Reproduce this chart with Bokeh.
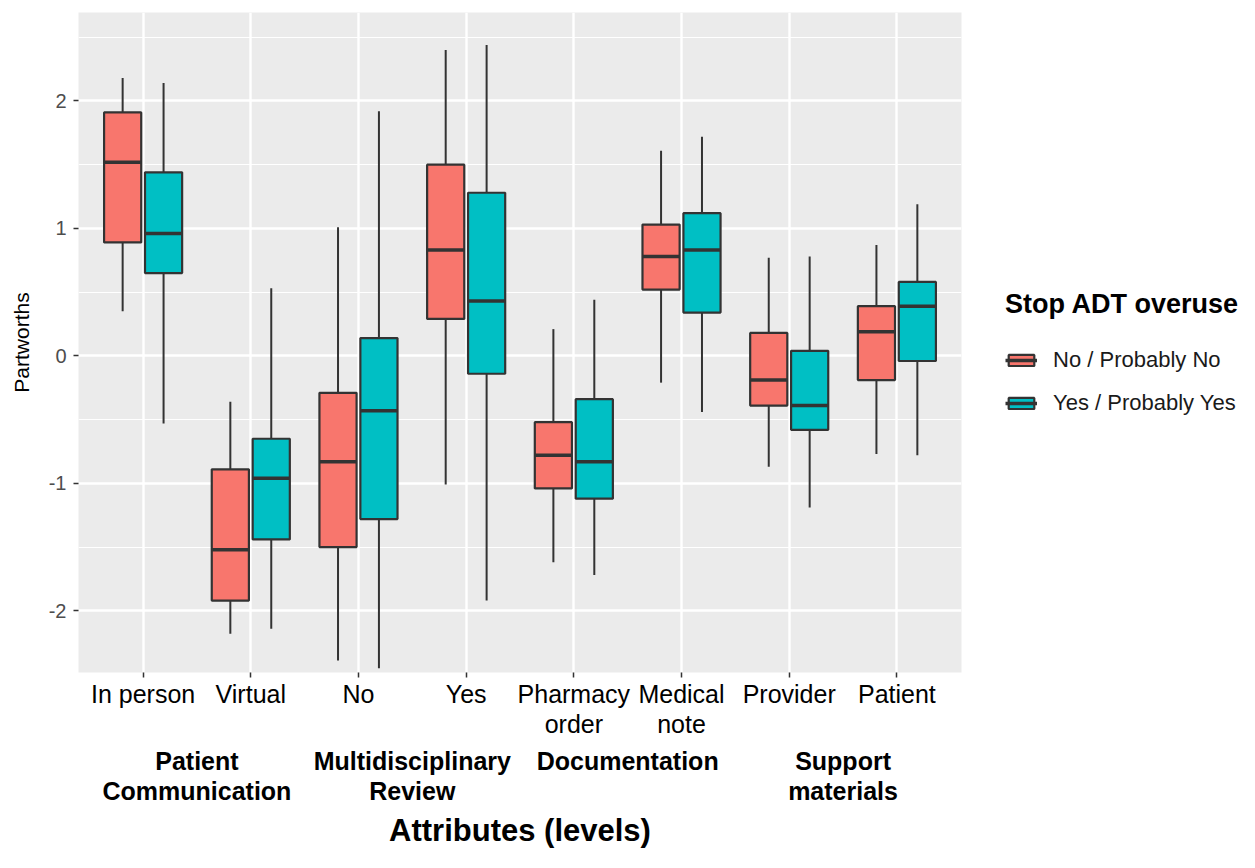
import numpy as np
from bokeh.plotting import figure
from bokeh.models import (ColumnDataSource, Range1d, FixedTicker, LinearAxis,
                          Legend, LegendItem)
from bokeh.embed import file_html
from bokeh.resources import INLINE

# ---------------- data ----------------
levels = ["In person", "Virtual", "No", "Yes", "Pharmacy\norder",
          "Medical\nnote", "Provider", "Patient"]
attributes = ["Patient\nCommunication", "Multidisciplinary\nReview",
              "Documentation", "Support\nmaterials"]
groups = ["No / Probably No", "Yes / Probably Yes"]

no_whisker_low = [0.35, -2.18, -2.39, -1.01, -1.62, -0.21, -0.87, -0.77]
no_q1 = [0.89, -1.92, -1.50, 0.29, -1.04, 0.52, -0.39, -0.19]
no_median = [1.52, -1.52, -0.83, 0.83, -0.78, 0.78, -0.19, 0.19]
no_q3 = [1.91, -0.89, -0.29, 1.50, -0.52, 1.03, 0.18, 0.39]
no_whisker_high = [2.18, -0.36, 1.01, 2.40, 0.21, 1.61, 0.77, 0.87]

yes_whisker_low = [-0.53, -2.14, -2.45, -1.92, -1.72, -0.44, -1.19, -0.78]
yes_q1 = [0.65, -1.44, -1.28, -0.14, -1.12, 0.34, -0.58, -0.04]
yes_median = [0.96, -0.96, -0.43, 0.43, -0.83, 0.83, -0.39, 0.39]
yes_q3 = [1.44, -0.65, 0.14, 1.28, -0.34, 1.12, 0.04, 0.58]
yes_whisker_high = [2.14, 0.53, 1.92, 2.44, 0.44, 1.72, 0.78, 1.19]

y_ticks = [-2, -1, 0, 1, 2]
y_tick_labels = ["-2", "-1", "0", "1", "2"]
y_minor = [-2.5, -1.5, -0.5, 0.5, 1.5, 2.5]

# ---------------- styling ----------------
FONT = "Liberation Sans"
RED = "#F8766D"
TEAL = "#00BFC4"
EDGE = "#333333"
DODGE = 0.19
BOX_W = 0.345

pos = np.arange(1, len(levels) + 1)
attr_pos = (pos[0::2] + pos[1::2]) / 2.0

p = figure(frame_width=883, frame_height=660,
           x_range=Range1d(0.4, 8.6), y_range=Range1d(-2.484, 2.694),
           output_backend="svg", toolbar_location=None,
           min_border_left=78, min_border_right=0,
           min_border_top=12, min_border_bottom=0)
p.background_fill_color = "#EBEBEB"
p.border_fill_color = "white"
p.outline_line_color = None

# grid
p.xgrid.ticker = FixedTicker(ticks=[int(v) for v in pos])
p.xgrid.grid_line_color = "white"
p.xgrid.grid_line_width = 2.4
p.ygrid.ticker = FixedTicker(ticks=y_ticks, minor_ticks=y_minor)
p.ygrid.grid_line_color = "white"
p.ygrid.grid_line_width = 2.4
p.ygrid.minor_grid_line_color = "white"
p.ygrid.minor_grid_line_width = 1.2

# y axis
ya = p.yaxis[0]
ya.ticker = FixedTicker(ticks=y_ticks, minor_ticks=y_minor)
ya.major_label_overrides = {t: s for t, s in zip(y_ticks, y_tick_labels)}
ya.axis_line_color = None
ya.major_tick_line_color = EDGE
ya.major_tick_line_width = 1.5
ya.major_tick_in = 0
ya.major_tick_out = 5
ya.minor_tick_line_color = None
ya.major_label_text_font = FONT
ya.major_label_text_font_size = "20px"
ya.major_label_text_color = "#4D4D4D"
ya.major_label_standoff = 7
ya.axis_label = "Partworths"
ya.axis_label_text_font = FONT
ya.axis_label_text_font_size = "21px"
ya.axis_label_text_font_style = "normal"
ya.axis_label_text_color = "black"
ya.axis_label_standoff = 13

# x axis (levels)
xa = p.xaxis[0]
xa.ticker = FixedTicker(ticks=[int(v) for v in pos])
xa.major_label_overrides = {int(v): lab for v, lab in zip(pos, levels)}
xa.axis_line_color = None
xa.major_tick_line_color = EDGE
xa.major_tick_line_width = 1.5
xa.major_tick_in = 0
xa.major_tick_out = 5
xa.minor_tick_line_color = None
xa.major_label_text_font = FONT
xa.major_label_text_font_size = "25px"
xa.major_label_text_line_height = 1.08
xa.major_label_text_color = "black"
xa.major_label_standoff = 2

# second x axis (attributes)
ga = LinearAxis(ticker=FixedTicker(ticks=list(attr_pos)),
                major_label_overrides={float(v): lab for v, lab in zip(attr_pos, attributes)})
ga.axis_line_color = None
ga.major_tick_line_color = None
ga.minor_tick_line_color = None
ga.major_tick_in = 0
ga.major_tick_out = 0
ga.major_label_text_font = FONT
ga.major_label_text_font_size = "25px"
ga.major_label_text_line_height = 1.08
ga.major_label_text_font_style = "bold"
ga.major_label_text_color = "black"
ga.major_label_standoff = 6
ga.axis_label = "Attributes (levels)"
ga.axis_label_text_font = FONT
ga.axis_label_text_font_size = "31px"
ga.axis_label_text_font_style = "bold"
ga.axis_label_text_color = "black"
ga.axis_label_standoff = 5
p.add_layout(ga, "below")

# ---------------- boxes ----------------
series = [
    (groups[0], -DODGE, RED, no_whisker_low, no_q1, no_median, no_q3, no_whisker_high),
    (groups[1], DODGE, TEAL, yes_whisker_low, yes_q1, yes_median, yes_q3, yes_whisker_high),
]
items = []
for name, off, color, lo, q1, med, q3, hi in series:
    src = ColumnDataSource(dict(
        x=pos + off, x0=pos + off - BOX_W / 2, x1=pos + off + BOX_W / 2,
        lo=lo, q1=q1, med=med, q3=q3, hi=hi))
    p.segment(x0="x", y0="lo", x1="x", y1="hi", line_color=EDGE,
              line_width=2, source=src)
    box = p.vbar(x="x", width=BOX_W, bottom="q1", top="q3", fill_color=color,
                 line_color=EDGE, line_width=2.2, source=src)
    mline = p.segment(x0="x0", y0="med", x1="x1", y1="med", line_color=EDGE,
                      line_width=3.5, source=src)
    items.append(LegendItem(label=name, renderers=[box, mline]))

legend = Legend(items=items, title="Stop ADT overuse",
                location=(44, 256), padding=0, margin=0,
                border_line_color=None, background_fill_alpha=0,
                glyph_width=32, glyph_height=14, spacing=17,
                label_standoff=16, title_standoff=27,
                label_text_font=FONT, label_text_font_size="22px",
                label_text_color="#1A1A1A",
                title_text_font=FONT, title_text_font_size="27px",
                title_text_font_style="bold", title_text_color="black")
p.add_layout(legend, "right")

open("out.html", "w").write(file_html(p, INLINE))
